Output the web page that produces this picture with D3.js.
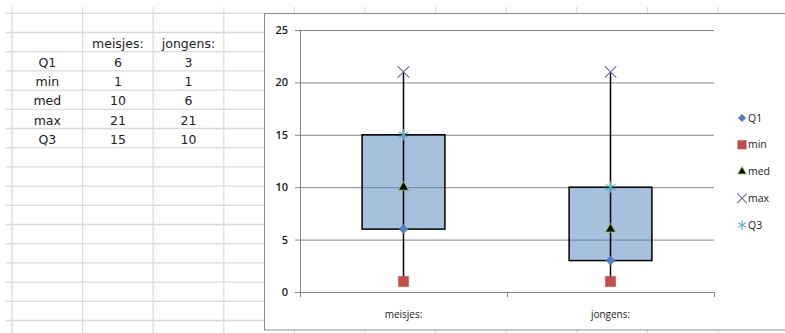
<!DOCTYPE html>
<html>
<head>
<meta charset="utf-8">
<script src="https://cdn.jsdelivr.net/npm/d3@7"></script>
<style>
  body { margin: 0; background: #fff; }
  svg { display: block; }
</style>
</head>
<body>
<div id="chart"></div>
<script>
// Data
var categories = ["meisjes:", "jongens:"];
var seriesNames = ["Q1", "min", "med", "max", "Q3"];
var q1Values = [6, 3];
var minValues = [1, 1];
var medValues = [10, 6];
var maxValues = [21, 21];
var q3Values = [15, 10];
var yTicks = [0, 5, 10, 15, 20, 25];

var width = 785, height = 333;

var svg = d3.select("#chart").append("svg")
    .attr("width", width)
    .attr("height", height);

// ---- Spreadsheet behind the chart ----
var sheet = { top: 13.3, rowH: 19.2, left: 12, colW: 70.6, rows: 17, cols: 11 };
var rowY = d3.range(sheet.rows).map(i => sheet.top + i * sheet.rowH);
var colX = d3.range(sheet.cols).map(i => sheet.left + i * sheet.colW);

var grid = svg.append("g").attr("stroke", "#dcdcdc").attr("stroke-width", 1.3);
grid.selectAll(".hr").data(rowY).join("line")
    .attr("x1", 5).attr("x2", width)
    .attr("y1", d => d).attr("y2", d => d);
grid.selectAll(".vr").data(colX).join("line")
    .attr("x1", d => d).attr("x2", d => d)
    .attr("y1", 7).attr("y2", height);

// table values
var table = svg.append("g")
    .style("font", "12.5px 'DejaVu Sans'")
    .attr("fill", "#222")
    .attr("text-anchor", "middle");
var cellX = i => sheet.left + sheet.colW * (i + 0.5);
var cellBase = r => sheet.top + sheet.rowH * (r + 1) - 4;

table.selectAll(".hd").data(categories).join("text")
    .attr("x", (d, i) => cellX(i + 1)).attr("y", cellBase(1))
    .text(d => d);
var allSeries = [q1Values, minValues, medValues, maxValues, q3Values];
seriesNames.forEach(function (name, r) {
    table.append("text").attr("x", cellX(0)).attr("y", cellBase(r + 2)).text(name);
    allSeries[r].forEach(function (v, c) {
        table.append("text").attr("x", cellX(c + 1)).attr("y", cellBase(r + 2)).text(v);
    });
});

// ---- Chart ----
svg.append("rect")
    .attr("x", 264.5).attr("y", 13.5)
    .attr("width", 540).attr("height", 316.5)
    .attr("fill", "#fff")
    .attr("stroke", "#8c8c8c");

var plot = { left: 300, right: 714, top: 30, bottom: 292 };

var x = d3.scaleBand()
    .domain(categories)
    .range([plot.left, plot.right]);
var y = d3.scaleLinear()
    .domain([0, 25])
    .range([plot.bottom, plot.top]);

// gridlines
svg.append("g")
    .attr("transform", "translate(" + plot.left + ",0)")
    .call(d3.axisLeft(y).tickValues(yTicks).tickSize(-(plot.right - plot.left)).tickFormat(""))
    .call(g => g.select(".domain").remove())
    .call(g => g.selectAll("line").attr("stroke", "#868686"));

// y axis
svg.append("g")
    .attr("transform", "translate(" + plot.left + ",0)")
    .call(d3.axisLeft(y).tickValues(yTicks).tickSize(5).tickPadding(7))
    .call(g => g.select(".domain").attr("stroke", "#868686").attr("d", "M0.5," + plot.top + "V" + plot.bottom))
    .call(g => g.selectAll("line").attr("stroke", "#868686"))
    .call(g => g.selectAll("text")
        .attr("fill", "#1a1a1a")
        .style("font", "600 11px 'Open Sans'"));

// x axis
svg.append("g")
    .attr("transform", "translate(0," + plot.bottom + ")")
    .call(d3.axisBottom(x).tickSize(0).tickPadding(19))
    .call(g => g.select(".domain").attr("stroke", "#868686").attr("d", "M" + plot.left + ",0.5H" + plot.right))
    .call(g => g.selectAll("text").attr("fill", "#222").style("font", "10px 'Open Sans'"));
svg.append("g").selectAll("line")
    .data([plot.left, x(categories[1]), plot.right])
    .join("line")
    .attr("x1", d => d + 0.5).attr("x2", d => d + 0.5)
    .attr("y1", plot.bottom).attr("y2", plot.bottom + 5)
    .attr("stroke", "#868686");

// boxes
var boxW = x.bandwidth() * 0.4;
var cx = c => x(c) + x.bandwidth() / 2;

svg.append("g").selectAll("rect")
    .data(categories)
    .join("rect")
    .attr("x", d => cx(d) - boxW / 2)
    .attr("y", (d, i) => y(q3Values[i]))
    .attr("width", boxW)
    .attr("height", (d, i) => y(q1Values[i]) - y(q3Values[i]))
    .attr("fill", "#4f81bd")
    .attr("fill-opacity", 0.5)
    .attr("stroke", "none");
svg.append("g").selectAll("rect")
    .data(categories)
    .join("rect")
    .attr("x", d => cx(d) - boxW / 2)
    .attr("y", (d, i) => y(q3Values[i]))
    .attr("width", boxW)
    .attr("height", (d, i) => y(q1Values[i]) - y(q3Values[i]))
    .attr("fill", "none")
    .attr("stroke", "#000")
    .attr("stroke-width", 1.5);

// whiskers
svg.append("g").selectAll("line")
    .data(categories)
    .join("line")
    .attr("x1", d => cx(d)).attr("x2", d => cx(d))
    .attr("y1", (d, i) => y(minValues[i]))
    .attr("y2", (d, i) => y(maxValues[i]))
    .attr("stroke", "#000")
    .attr("stroke-width", 1.5);

// markers
var markerStyles = {
    Q1: { shape: d3.symbolSquare, size: 42, rot: 45, fill: "#4f81bd", stroke: "#4f81bd", sw: 0.5 },
    min: { shape: d3.symbolSquare, size: 105, rot: 0, fill: "#c0504d", stroke: "#c0504d", sw: 0.5 },
    med: { shape: d3.symbolTriangle, size: 45, rot: 0, fill: "#000", stroke: "#9bbb59", sw: 1 },
    max: { shape: d3.symbolTimes, size: 90, rot: 0, fill: "none", stroke: "#8064a2", sw: 1.1 },
    Q3: { shape: d3.symbolAsterisk, size: 90, rot: 0, fill: "none", stroke: "#4bacc6", sw: 1.1 }
};

function drawMarker(g, name, px, py, scale) {
    var s = markerStyles[name];
    g.append("path")
        .attr("transform", "translate(" + px + "," + py + ") rotate(" + s.rot + ")")
        .attr("d", d3.symbol(s.shape, s.size * (scale || 1))())
        .attr("fill", s.fill)
        .attr("stroke", s.stroke)
        .attr("stroke-width", s.sw);
}

var marks = svg.append("g");
seriesNames.forEach(function (name, r) {
    categories.forEach(function (c, i) {
        drawMarker(marks, name, cx(c), y(allSeries[r][i]));
    });
});

// legend
var legend = svg.append("g")
    .style("font", "10.5px 'Open Sans'")
    .attr("fill", "#222");
var legendY = d3.scalePoint().domain(seriesNames).range([118, 225]);
seriesNames.forEach(function (name) {
    var ly = legendY(name);
    drawMarker(legend, name, 742, ly, 0.7);
    legend.append("text")
        .attr("x", 748).attr("y", ly)
        .attr("dy", "0.35em")
        .text(name);
});
</script>
</body>
</html>
